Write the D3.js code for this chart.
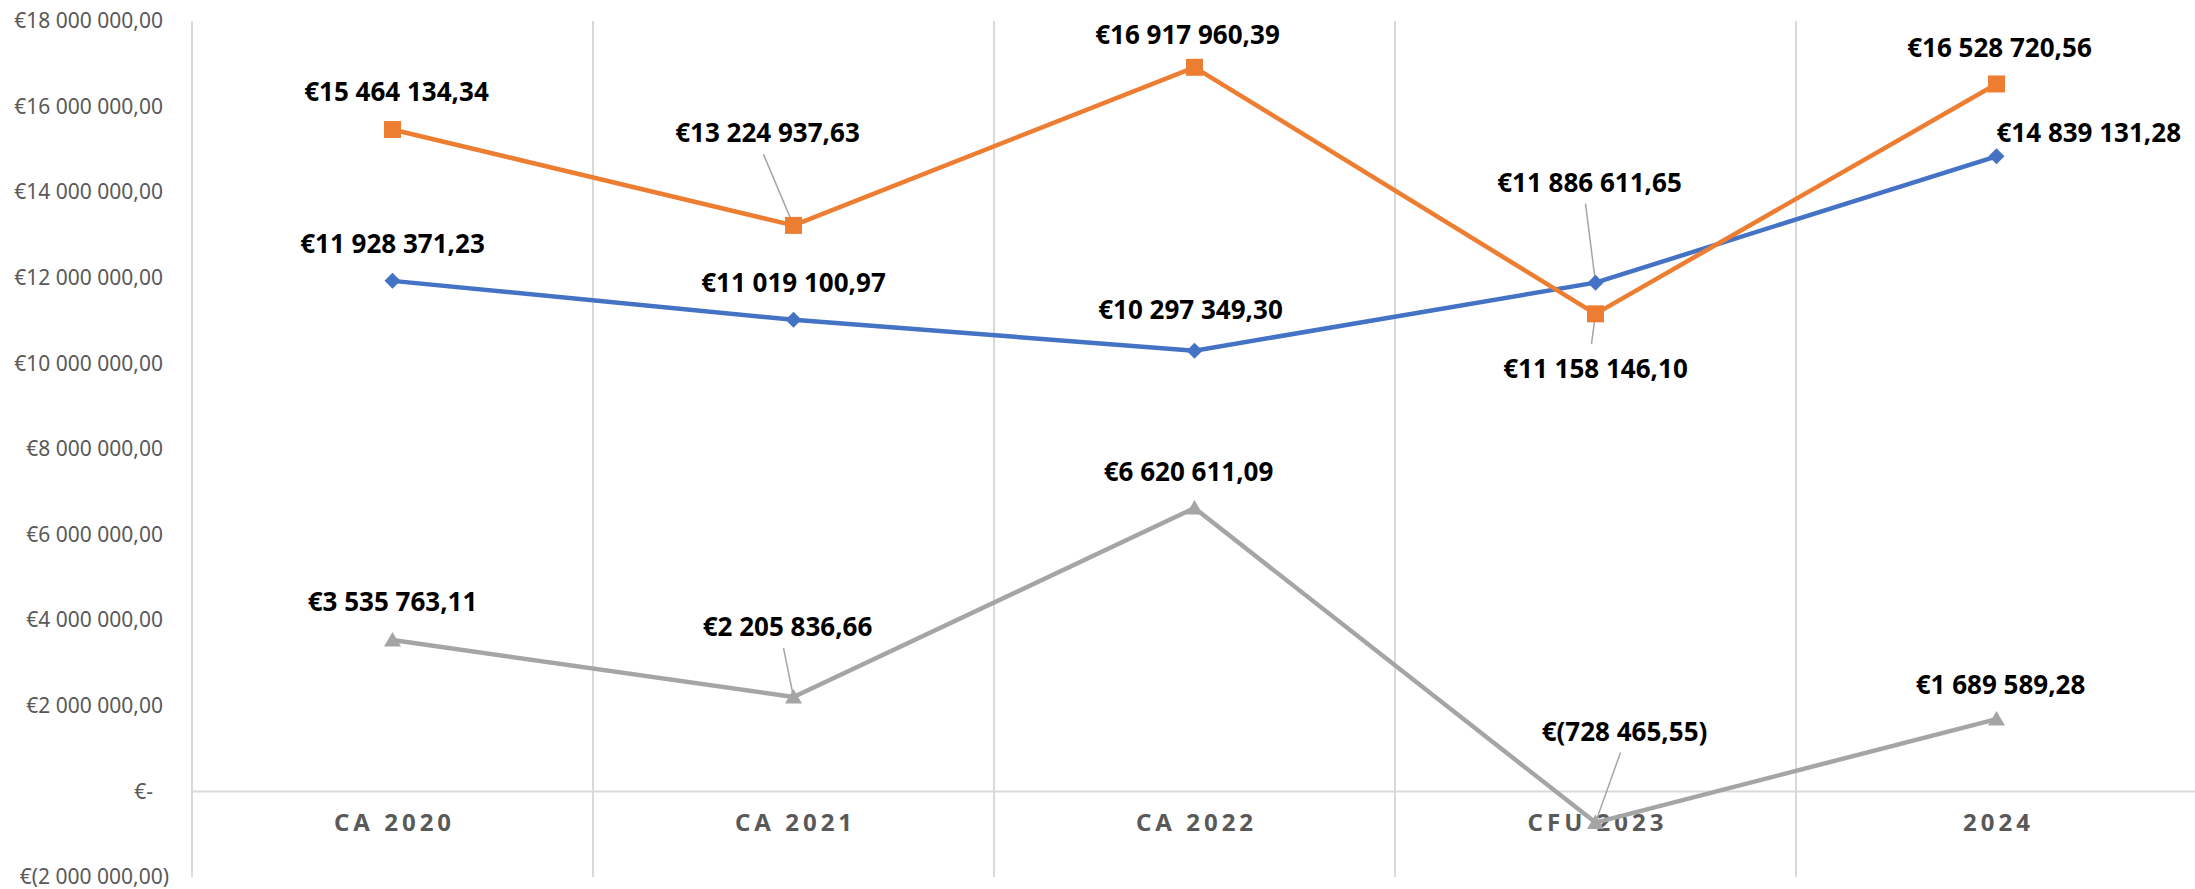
<!DOCTYPE html>
<html>
<head>
<meta charset="utf-8">
<script src="https://cdn.jsdelivr.net/npm/d3@7"></script>
<style>
  html, body { margin: 0; padding: 0; background: #fff; }
  svg { display: block; font-family: "Noto Sans", "Open Sans", sans-serif; }
</style>
</head>
<body>
<svg id="chart"></svg>
<script>
// categories and series
let categories = ["CA 2020", "CA 2021", "CA 2022", "CFU 2023", "2024"];
let serieBleue = [11928371.23, 11019100.97, 10297349.30, 11886611.65, 14839131.28];
let serieOrange = [15464134.34, 13224937.63, 16917960.39, 11158146.10, 16528720.56];
let serieGrise = [3535763.11, 2205836.66, 6620611.09, -728465.55, 1689589.28];
let yTicks = [-2000000, 0, 2000000, 4000000, 6000000, 8000000, 10000000,
              12000000, 14000000, 16000000, 18000000];

let chartW = 2195,
    chartH = 889,
    plotLeft = 192,
    plotTop = 21,
    plotBottom = 877,
    plotRight = 2197;

// where each label sits relative to its point: [dx, dy, anchor, leader]
let labelLayout = {
    blue: [[0, -37], [0, -37], [-4, -41], [-6, -100, "middle", true], [0, -23, "start"]],
    orange: [[4, -38], [-26, -92, "middle", true], [-7, -32], [0, 55, "middle", true], [3, -36]],
    gray: [[0, -38], [-6, -70, "middle", true], [-6, -36], [29, -91, "middle", true], [4, -34]]
};

let series = [
    {key: "blue", values: serieBleue, color: "#4472C4", marker: "diamond"},
    {key: "orange", values: serieOrange, color: "#ED7D31", marker: "square"},
    {key: "gray", values: serieGrise, color: "#A5A5A5", marker: "triangle"}
];

let svg = d3.select("#chart")
    .attr("width", chartW)
    .attr("height", chartH);

let x = d3.scaleBand()
    .domain(categories)
    .range([plotLeft, plotRight])
    .padding(0);

let y = d3.scaleLinear()
    .domain([-2000000, 18000000])
    .range([plotBottom, plotTop]);

let cx = function (c) { return x(c) + x.bandwidth() / 2; };

// number like Excel accounting format: €18 000 000,00 / €(2 000 000,00) / €-
let fmtNum = function (v) {
    let s = d3.format(",.2f")(Math.abs(v));
    return s.replace(/,/g, " ").replace(".", ",");
};
let fmtAxis = function (v) {
    if (v === 0) return "€-";
    if (v < 0) return "€(" + fmtNum(v) + ")";
    return "€" + fmtNum(v);
};

// vertical gridlines at category boundaries
let gridX = categories.map(function (c) { return x(c); }).concat([plotRight]);
svg.append("g")
    .selectAll("line")
    .data(gridX)
    .enter()
    .append("line")
    .attr("x1", function (d) { return d; })
    .attr("x2", function (d) { return d; })
    .attr("y1", plotTop)
    .attr("y2", plotBottom)
    .style("stroke", "#D9D9D9")
    .style("stroke-width", 2);

// zero line
svg.append("line")
    .attr("x1", plotLeft)
    .attr("x2", chartW)
    .attr("y1", y(0))
    .attr("y2", y(0))
    .style("stroke", "#D9D9D9")
    .style("stroke-width", 2);

// y axis labels
let yAxis = d3.axisLeft(y)
    .tickValues(yTicks)
    .tickSize(0)
    .tickPadding(0)
    .tickFormat(fmtAxis);

let gy = svg.append("g")
    .attr("transform", "translate(169,0)")
    .call(yAxis);
gy.select(".domain").remove();
gy.selectAll("text")
    .attr("font-family", "Noto Sans")
    .attr("font-size", "21px")
    .attr("fill", "#595959")
    .attr("dx", function (d) { return d === 0 ? -16 : (d > 0 ? -6 : 0); });

// x axis labels
let xAxis = d3.axisBottom(x)
    .tickSize(0)
    .tickPadding(0);

let gx = svg.append("g")
    .attr("transform", "translate(0,814)")
    .call(xAxis);
gx.select(".domain").remove();
gx.selectAll("text")
    .attr("font-family", "Noto Sans")
    .attr("font-size", "24px")
    .attr("font-weight", "bold")
    .attr("fill", "#595959")
    .attr("dx", "2px")
    .style("letter-spacing", "4px");

let line = d3.line()
    .x(function (d, i) { return cx(categories[i]); })
    .y(function (d) { return y(d); });

let markerPath = {
    diamond: "M0,-8L8,0L0,8L-8,0Z",
    square: "M-8.5,-8.5H8.5V8.5H-8.5Z",
    triangle: "M0,-8L8.5,6.5L-8.5,6.5Z"
};

let gLines = svg.append("g");
let gLeaders = svg.append("g");
let gMarks = svg.append("g");
let gLabels = svg.append("g");

series.forEach(function (s) {
    gLines.append("path")
        .datum(s.values)
        .attr("d", line)
        .style("fill", "none")
        .style("stroke", s.color)
        .style("stroke-width", 4.5)
        .style("stroke-linejoin", "round");

    gMarks.selectAll("path." + s.key)
        .data(s.values)
        .enter()
        .append("path")
        .attr("class", s.key)
        .attr("d", markerPath[s.marker])
        .attr("transform", function (d, i) {
            return "translate(" + cx(categories[i]) + "," + y(d) + ")";
        })
        .style("fill", s.color);

    s.values.forEach(function (v, i) {
        let lay = labelLayout[s.key][i];
        let px = cx(categories[i]), py = y(v);
        let tx = px + lay[0], ty = py + lay[1];

        if (lay[3]) {
            let sy = lay[1] < 0 ? ty + 21 : ty - 25;
            gLeaders.append("line")
                .attr("x1", tx - 4)
                .attr("y1", sy)
                .attr("x2", px)
                .attr("y2", py)
                .style("stroke", "#A6A6A6")
                .style("stroke-width", 1.5);
        }

        gLabels.append("text")
            .attr("x", tx)
            .attr("y", ty)
            .attr("dy", "0.35em")
            .attr("text-anchor", lay[2] || "middle")
            .attr("font-size", "26px")
            .attr("font-weight", "bold")
            .attr("fill", "#000")
            .text(fmtAxis(v));
    });
});
</script>
</body>
</html>
